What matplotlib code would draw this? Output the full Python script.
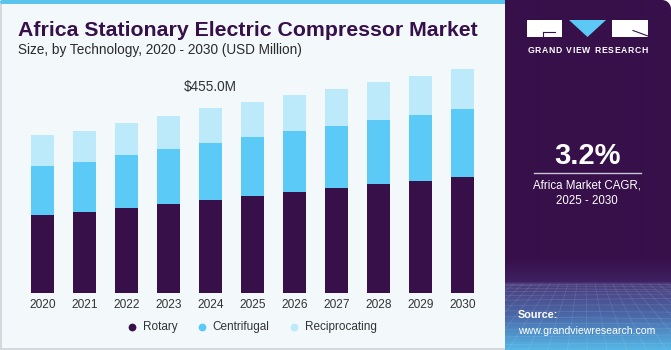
import matplotlib
matplotlib.use("Agg")
import matplotlib.pyplot as plt
import numpy as np
from matplotlib.patches import Rectangle, Polygon, FancyBboxPatch
from matplotlib.colors import to_rgb

# ---- data ----
years = ["2020", "2021", "2022", "2023", "2024", "2025", "2026", "2027", "2028", "2029", "2030"]
rotary = [192.6, 200.0, 210.5, 220.4, 230.2, 240.0, 249.9, 259.7, 268.1, 276.9, 286.8]
centrifugal = [121.3, 123.7, 129.6, 133.8, 140.2, 144.4, 148.6, 152.5, 158.1, 162.3, 167.2]
reciprocating = [74.8, 76.2, 78.7, 81.2, 84.6, 86.1, 89.3, 91.0, 92.7, 95.9, 96.9]
series_names = ["Rotary", "Centrifugal", "Reciprocating"]
annot_year = "2024"
annot_text = "$455.0M"

C_ROT = "#37104a"
C_CEN = "#5bcaf6"
C_REC = "#bdeafb"
PURPLE = "#37104a"

plt.rcParams['font.family'] = ['Liberation Sans', 'DejaVu Sans']

W, H = 671, 350
fig = plt.figure(figsize=(6.71, 3.5), dpi=100)
fig.patch.set_facecolor("white")
bg = fig.add_axes([0, 0, 1, 1])
bg.set_xlim(0, W)
bg.set_ylim(H, 0)
bg.axis("off")

# left panel
bg.add_patch(Rectangle((0, 0), 508, 350, fc="#f3f8fb", ec="none", zorder=0))
bg.plot([0.8, 0.8], [3, 348], color="#cfd3d8", lw=1.2, zorder=1)
bg.plot([0, 508], [348.5, 348.5], color="#cfd3d8", lw=1.2, zorder=1)
bg.add_patch(FancyBboxPatch((0, 0), 508, 4, boxstyle="round,pad=0,rounding_size=2",
                            fc="#5bc4ee", ec="none", zorder=1))

# right panel gradient (only top-right corner rounded)
x0p = 505
stops = [(0, PURPLE), (258, PURPLE), (281, "#3f2060"), (283, "#4b3c7c"),
         (315, "#4a68a8"), (350, "#55b9e8")]
rows = np.arange(H)
ys = [s[0] for s in stops]
cols = np.array([to_rgb(s[1]) for s in stops])
img = np.zeros((H, 1, 3))
for c in range(3):
    img[:, 0, c] = np.interp(rows, ys, cols[:, c])
r = 9
ang = np.linspace(-np.pi / 2, 0, 12)
corner = [(W - r + r * np.cos(a), r + r * np.sin(a)) for a in ang]
poly_pts = [(x0p, H), (x0p, 0)] + corner + [(W, H)]
panel = Polygon(poly_pts, closed=True, fc="none", ec="none", transform=bg.transData)
bg.add_patch(panel)
im = bg.imshow(img, extent=(x0p, W, H, 0), aspect="auto", zorder=2, interpolation="bilinear")
im.set_clip_path(panel)

# faint perspective grid
for i in range(14):
    yy = 284 + (i ** 1.5) * 1.45
    ln, = bg.plot([x0p, W], [yy, yy + 2 * np.sin(i)], color="white", lw=0.5, alpha=0.13, zorder=3)
    ln.set_clip_path(panel)
for i in range(-12, 30):
    xt = x0p + i * 9
    ln, = bg.plot([xt, x0p + (xt - x0p - 80) * 2.2 + 80], [284, 350], color="white", lw=0.5,
                  alpha=0.13, zorder=3)
    ln.set_clip_path(panel)

# logo
bg.add_patch(Rectangle((527, 20), 35, 16.5, fc="white", ec="none", zorder=4))
bg.plot([543, 555], [31.5, 31.5], color=PURPLE, lw=0.8, zorder=5)
bg.plot([543, 543], [31.5, 36.5], color=PURPLE, lw=0.8, zorder=5)
bg.add_patch(Polygon([(569, 20), (606, 20), (587.5, 37)], closed=True, fc="#5bc8f5", ec="none", zorder=4))
bg.add_patch(Rectangle((611.5, 20), 36.5, 16.5, fc="white", ec="none", zorder=4))
bg.plot([633, 648], [30.5, 36], color=PURPLE, lw=0.8, zorder=5)

fig.canvas.draw()
renderer = fig.canvas.get_renderer()


def fit(t, target_w):
    bb = t.get_window_extent(renderer)
    t.set_fontsize(t.get_fontsize() * target_w / bb.width)


# letter-spaced logo text
logo_txt = "GRAND VIEW RESEARCH"
chars = []
widths = []
for ch in logo_txt:
    t = bg.text(0, 50.8, ch if ch != " " else "I", color="white", fontsize=6.2,
                fontweight="bold", ha="left", va="center", zorder=5)
    w = t.get_window_extent(renderer).width
    if ch == " ":
        w *= 1.2
        t.set_visible(False)
    chars.append(t)
    widths.append(w)
extra = (120.5 - sum(widths)) / (len(chars) - 1)
xc = 527.3
for t, w in zip(chars, widths):
    t.set_x(xc)
    xc += w + extra

bg.text(587.3, 155.5, "3.2%", color="white", fontsize=21, fontweight="bold",
        ha="center", va="center", zorder=5)
bg.plot([534, 640.7], [173.3, 173.3], color="#cbc3d6", lw=1.0, zorder=5)
bg.text(587.3, 185, "Africa Market CAGR,", color="white", fontsize=8.3,
        ha="center", va="center", zorder=5)
bg.text(587.3, 201, "2025 - 2030", color="white", fontsize=8.3,
        ha="center", va="center", zorder=5)
bg.text(518, 315, "Source:", color="white", fontsize=7.8, fontweight="bold",
        ha="left", va="center", zorder=5)
t_src = bg.text(518, 330.5, "www.grandviewresearch.com", color="white", fontsize=7.6,
                ha="left", va="center", zorder=5)
fit(t_src, 137.5)

# titles
t_title = bg.text(17.5, 36, "Africa Stationary Electric Compressor Market", color="#36104a",
                  fontsize=14, fontweight="heavy", ha="left", va="baseline", zorder=5)
fit(t_title, 460)
t_sub = bg.text(17.5, 54, "Size, by Technology, 2020 - 2030 (USD Million)", color="#2b2b2b",
                fontsize=9.5, ha="left", va="baseline", zorder=5)
fit(t_sub, 285)

# ---- chart ----
ax = fig.add_axes([21.5 / W, 56.7 / H, 462.3 / W, 233.3 / H])
ax.set_facecolor("none")
x = np.arange(len(years))
bw = 0.55
rot = np.array(rotary)
cen = np.array(centrifugal)
rec = np.array(reciprocating)
ax.bar(x, rot, bw, color=C_ROT, zorder=2)
ax.bar(x, cen, bw, bottom=rot, color=C_CEN, zorder=2)
ax.bar(x, rec, bw, bottom=rot + cen, color=C_REC, zorder=2)
ax.set_xlim(-0.5, len(years) - 0.5)
ax.set_ylim(0, 573.8)
ax.set_xticks(x)
ax.set_xticklabels(years, fontsize=8.6, color="#333333")
ax.tick_params(axis="x", length=0, pad=4)
ax.set_yticks([])
for s in ax.spines.values():
    s.set_visible(False)

i = years.index(annot_year)
tot = rot[i] + cen[i] + rec[i]
ax.annotate(annot_text, (x[i], tot), xytext=(0, 15), textcoords="offset points",
            ha="center", va="center", fontsize=9.8, color="#333333")

# legend
leg_colors = [C_ROT, C_CEN, C_REC]
dot_x = [132.3, 201.7, 294.3]
txt_x = [143.3, 212.7, 305.0]
for name, c, dx, tx in zip(series_names, leg_colors, dot_x, txt_x):
    bg.plot([dx], [327.3], marker="o", markersize=5.6, color=c, mec="none", zorder=5)
    bg.text(tx, 327.3, name, fontsize=8.5, color="#333333", ha="left", va="center", zorder=5)

fig.savefig("out.png", dpi=100, facecolor=fig.get_facecolor())
